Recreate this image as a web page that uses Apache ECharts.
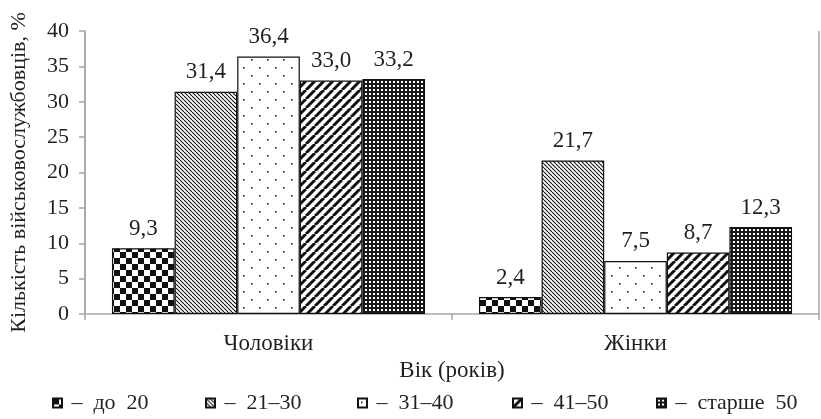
<!DOCTYPE html>
<html>
<head>
<meta charset="utf-8">
<script src="https://cdn.jsdelivr.net/npm/echarts@6/dist/echarts.min.js"></script>
<style>html,body{margin:0;padding:0;background:#fff}#c{width:821px;height:419px}</style>
</head>
<body>
<div id="c"></div>
<script>
const categories = ['Чоловіки', 'Жінки'];
const seriesNames = ['до 20', '21–30', '31–40', '41–50', 'старше 50'];
const valuesUnder20 = [9.3, 2.4];
const values21to30 = [31.4, 21.7];
const values31to40 = [36.4, 7.5];
const values41to50 = [33.0, 8.7];
const valuesOver50 = [33.2, 12.3];
const yTicks = [0, 5, 10, 15, 20, 25, 30, 35, 40];

const FONT = 'Liberation Serif';
const TXT = '#231f20';
const AX = '#a6a6a6';

function pat(w, h, draw) {
  const c = document.createElement('canvas');
  c.width = w; c.height = h;
  const g = c.getContext('2d');
  g.fillStyle = '#fff'; g.fillRect(0, 0, w, h);
  draw(g, w, h);
  return { image: c, repeat: 'repeat' };
}
const patterns = [
  pat(12, 12, g => { g.fillStyle = '#111'; g.fillRect(0, 0, 6, 6); g.fillRect(6, 6, 6, 6); }),
  pat(4, 4, g => { g.strokeStyle = '#111'; g.lineWidth = 1.1; for (const k of [-4, 0, 4]) { g.beginPath(); g.moveTo(k, 0); g.lineTo(k + 4, 4); g.stroke(); } }),
  pat(16, 16, g => { g.fillStyle = '#222'; g.fillRect(3, 3, 1.6, 1.6); g.fillRect(11, 11, 1.6, 1.6); }),
  pat(9, 9, g => { g.strokeStyle = '#111'; g.lineWidth = 3; for (const k of [-9, 0, 9]) { g.beginPath(); g.moveTo(k, 9); g.lineTo(k + 9, 0); g.stroke(); } }),
  pat(4, 4, g => { g.fillStyle = '#1a1a1a'; g.fillRect(0, 0, 4, 4); g.fillStyle = '#fff'; g.fillRect(1, 1, 2, 2); })
];
const allValues = [valuesUnder20, values21to30, values31to40, values41to50, valuesOver50];
const legendLeft = [52, 205, 357, 512, 656];

const chart = echarts.init(document.getElementById('c'), null, { renderer: 'canvas' });
chart.setOption({
  animation: false,
  textStyle: { fontFamily: FONT, color: TXT },
  grid: { left: 85, right: 2, top: 31, bottom: 105 },
  legend: seriesNames.map((n, i) => ({
    data: [n], left: legendLeft[i], top: 392, padding: 0, itemWidth: 9, itemHeight: 9,
    icon: 'rect', itemGap: 0,
    formatter: name => '\u2009–\u2002' + name.replace(' ', '\u2002'),
    textStyle: { fontFamily: FONT, fontSize: 22, color: TXT }
  })),
  xAxis: {
    type: 'category', data: categories,
    name: 'Вік (років)', nameLocation: 'middle', nameGap: 45,
    nameTextStyle: { fontFamily: FONT, fontSize: 23, color: TXT },
    axisLine: { lineStyle: { color: AX, width: 1.5 } },
    axisTick: { show: true, length: 6, lineStyle: { color: AX, width: 1.5 }, interval: 0 },
    splitLine: { show: true, interval: (idx) => idx === 1, lineStyle: { color: AX, width: 1.5 } },
    axisLabel: { margin: 18, fontFamily: FONT, fontSize: 23, color: TXT }
  },
  yAxis: {
    type: 'value', min: 0, max: 40, interval: 5,
    name: 'Кількість військовослужбовців, %', nameLocation: 'middle', nameGap: 55, nameRotate: 90,
    nameTextStyle: { fontFamily: FONT, fontSize: 22, color: TXT },
    axisLine: { show: true, lineStyle: { color: AX, width: 1.5 } },
    axisTick: { show: true, length: 6, lineStyle: { color: AX, width: 1.5 } },
    splitLine: { show: false },
    axisLabel: { margin: 16, fontFamily: FONT, fontSize: 22, color: TXT,
      formatter: v => yTicks.includes(v) ? String(v) : '' }
  },
  series: seriesNames.map((n, i) => ({
    name: n, type: 'bar', data: allValues[i],
    barGap: '0%', barCategoryGap: '14.7%',
    itemStyle: { color: patterns[i], borderColor: '#111', borderWidth: 1.2 },
    label: { show: true, position: 'top', distance: 8, fontFamily: FONT, fontSize: 23, color: TXT,
      formatter: p => p.value.toFixed(1).replace('.', ',') }
  }))
});
</script>
</body>
</html>
